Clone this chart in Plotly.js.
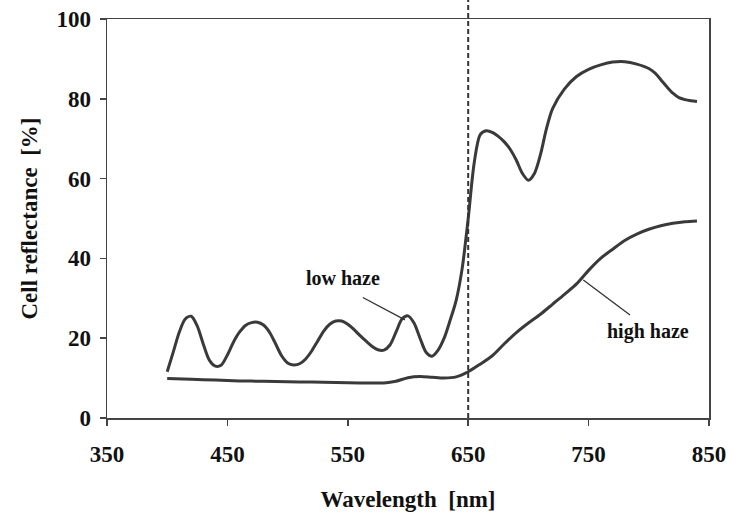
<!DOCTYPE html>
<html>
<head>
<meta charset="utf-8">
<script src="https://cdn.plot.ly/plotly-3.0.1.min.js"></script>
<style>
  html, body { margin: 0; padding: 0; background: #ffffff; }
  #chart { width: 732px; height: 515px; }
</style>
</head>
<body>
<div id="chart"></div>
<script>
// Reflectance spectra of two cells (wavelength in nm, reflectance in %)
const lowHazeWavelength = [400, 405, 410, 415, 420, 425, 430, 435, 440, 445, 450, 455, 460, 465, 470, 475, 480, 485, 490, 495, 500, 505, 510, 515, 520, 525, 530, 535, 540, 545, 550, 555, 560, 565, 570, 575, 580, 585, 590, 595, 600, 605, 610, 615, 620, 625, 630, 635, 640, 645, 650, 655, 660, 665, 670, 675, 680, 685, 690, 695, 700, 705, 710, 715, 720, 730, 740, 750, 760, 770, 780, 790, 800, 805, 810, 815, 820, 825, 830, 835, 840];
const lowHazeReflectance = [11.6, 16.5, 21.5, 24.8, 25.5, 23.0, 18.5, 14.5, 13.0, 13.3, 15.8, 19.0, 21.5, 23.2, 23.9, 24.0, 23.3, 21.5, 18.6, 15.6, 13.8, 13.3, 13.6, 14.8, 16.8, 19.3, 21.8, 23.5, 24.3, 24.3, 23.5, 22.2, 20.7, 19.3, 18.0, 17.1, 17.0, 18.3, 21.5, 24.8, 25.6, 23.8, 20.0, 16.5, 15.5, 17.0, 20.0, 24.5, 29.5, 37.5, 50.0, 64.0, 71.0, 72.0, 71.6, 70.6, 69.2, 67.3, 64.6, 61.3, 59.6, 61.3, 66.0, 72.5, 77.5, 82.5, 85.6, 87.4, 88.5, 89.2, 89.3, 88.7, 87.6, 86.5, 84.8, 83.0, 81.4, 80.3, 79.8, 79.5, 79.3];

const highHazeWavelength = [400, 420, 440, 460, 480, 500, 520, 540, 560, 580, 590, 600, 610, 620, 630, 640, 650, 660, 670, 680, 690, 700, 710, 720, 730, 740, 750, 760, 770, 780, 790, 800, 810, 820, 830, 840];
const highHazeReflectance = [9.9, 9.7, 9.5, 9.3, 9.2, 9.1, 9.0, 8.9, 8.8, 8.8, 9.2, 10.1, 10.4, 10.2, 10.0, 10.3, 11.6, 13.5, 15.6, 18.6, 21.4, 23.8, 26.0, 28.5, 31.0, 33.6, 37.0, 40.0, 42.3, 44.5, 46.1, 47.3, 48.2, 48.8, 49.2, 49.4];

const xTicks = [350, 450, 550, 650, 750, 850];
const yTicks = [0, 20, 40, 60, 80, 100];
const cutoffWavelength = 650;

const serif = 'Liberation Serif, Times New Roman, serif';
const ink = '#3a3a3a';

const traces = [
  {
    x: lowHazeWavelength, y: lowHazeReflectance, name: 'low haze',
    type: 'scatter', mode: 'lines',
    line: { color: ink, width: 3, shape: 'spline', smoothing: 0.8 },
    hoverinfo: 'x+y'
  },
  {
    x: highHazeWavelength, y: highHazeReflectance, name: 'high haze',
    type: 'scatter', mode: 'lines',
    line: { color: ink, width: 3, shape: 'spline', smoothing: 0.8 },
    hoverinfo: 'x+y'
  }
];

const axisCommon = {
  showline: true, mirror: true, linecolor: '#444', linewidth: 1.5,
  ticks: 'outside', ticklen: 6, tickwidth: 1.5, tickcolor: '#444',
  showgrid: false, zeroline: false, fixedrange: true,
  tickfont: { family: serif, size: 23, color: '#111', weight: 'bold' }
};

const layout = {
  width: 732, height: 515,
  margin: { l: 107, r: 23, t: 19, b: 97 },
  paper_bgcolor: '#ffffff', plot_bgcolor: '#ffffff',
  showlegend: false,
  xaxis: Object.assign({}, axisCommon, {
    range: [350, 850], tickvals: xTicks, ticktext: xTicks.map(String),
    ticklabelstandoff: 9,
    title: { text: 'Wavelength  [nm]', standoff: 25,
             font: { family: serif, size: 23, color: '#111', weight: 'bold' } }
  }),
  yaxis: Object.assign({}, axisCommon, {
    range: [0, 100], tickvals: yTicks, ticktext: yTicks.map(String),
    ticklabelstandoff: 4,
    title: { text: 'Cell reflectance  [%]', standoff: 12,
             font: { family: serif, size: 23, color: '#111', weight: 'bold' } }
  }),
  shapes: [
    // cutoff wavelength marker, runs past the top of the frame
    { type: 'line', xref: 'x', yref: 'paper', x0: cutoffWavelength, x1: cutoffWavelength,
      y0: 0, y1: 1.048, line: { color: '#333', width: 2, dash: '5px,3px' } },
    // leader lines for the curve labels
    { type: 'line', xref: 'x', yref: 'y', x0: 562.5, y0: 30.2, x1: 597.5, y1: 24.6,
      line: { color: '#333', width: 1.3 } },
    { type: 'line', xref: 'x', yref: 'y', x0: 745.6, y0: 34.6, x1: 784.4, y1: 25.8,
      line: { color: '#333', width: 1.3 } }
  ],
  annotations: [
    { x: 546, y: 35.1, xref: 'x', yref: 'y', text: 'low haze', showarrow: false,
      font: { family: serif, size: 20, color: '#111', weight: 'bold' } },
    { x: 799.5, y: 21.6, xref: 'x', yref: 'y', text: 'high haze', showarrow: false,
      font: { family: serif, size: 20, color: '#111', weight: 'bold' } }
  ]
};

Plotly.newPlot('chart', traces, layout, { displayModeBar: false, staticPlot: true });
</script>
</body>
</html>
